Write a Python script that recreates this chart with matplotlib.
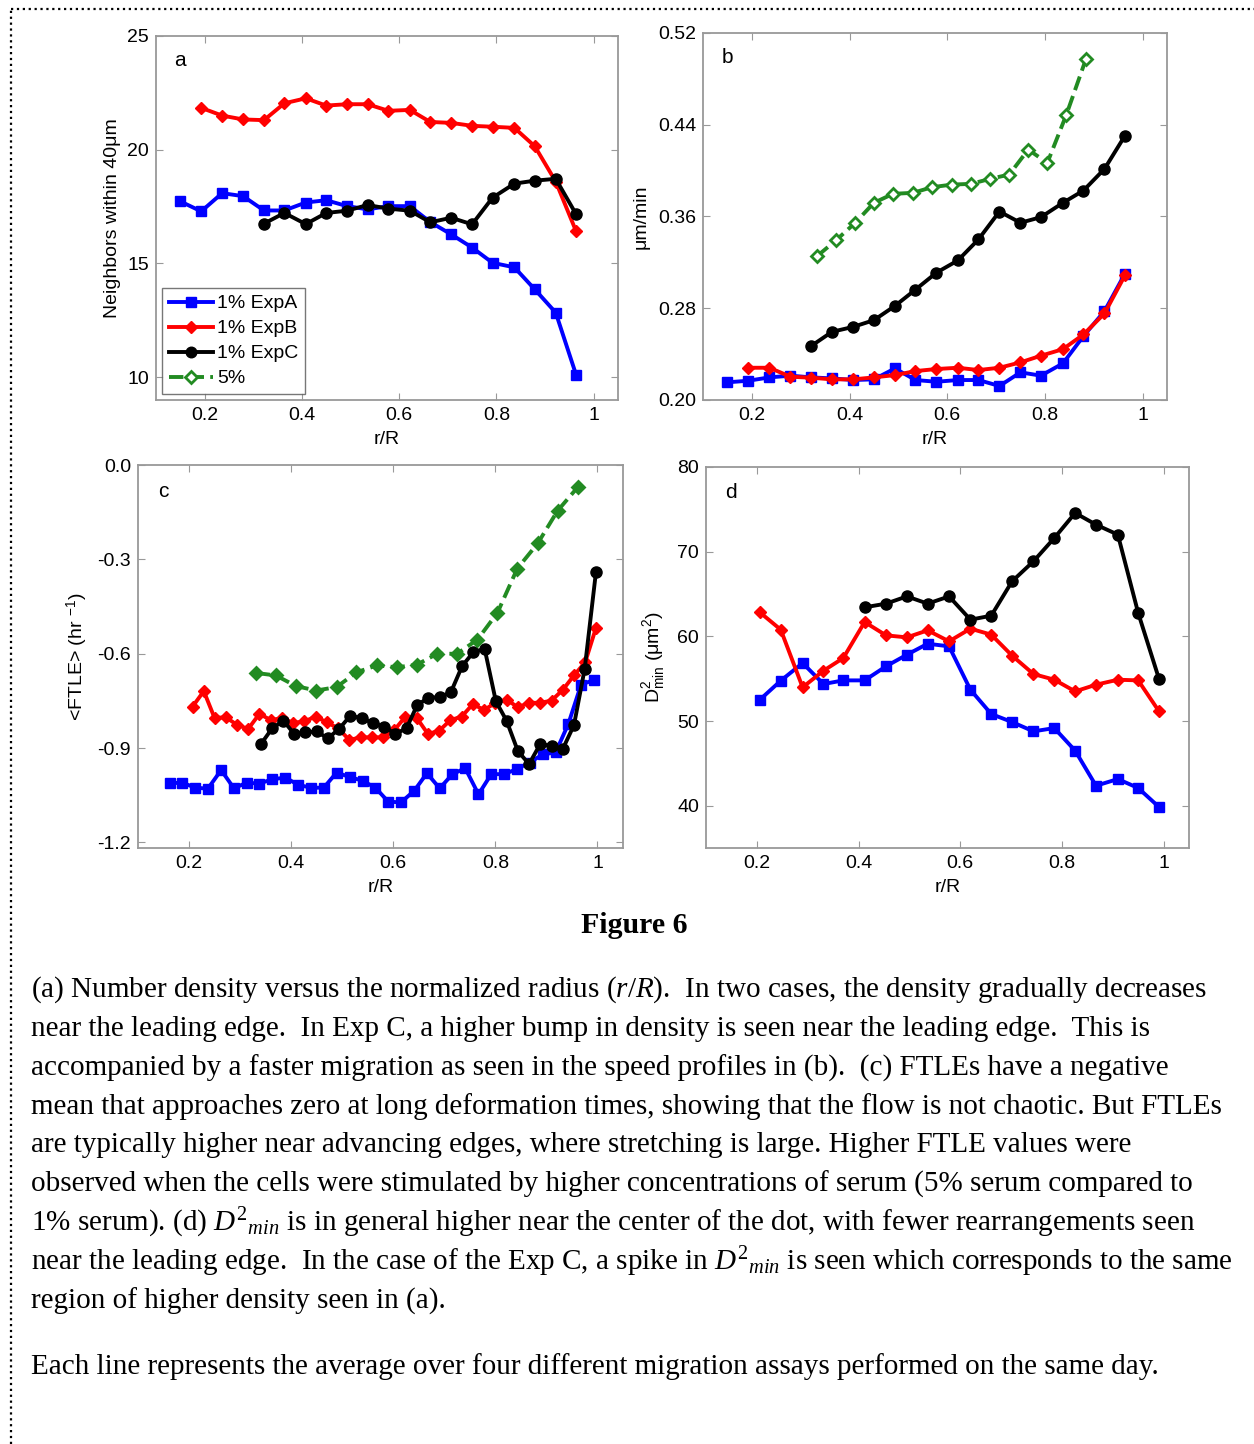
import numpy as np
import matplotlib.pyplot as plt
from matplotlib.lines import Line2D

plt.rcParams['font.family'] = ['Liberation Sans', 'DejaVu Sans']
plt.rcParams['axes.unicode_minus'] = False
plt.rcParams['mathtext.fontset'] = 'custom'
plt.rcParams['mathtext.rm'] = 'Liberation Serif'
plt.rcParams['mathtext.it'] = 'Liberation Serif:italic'
plt.rcParams['mathtext.sf'] = 'Liberation Sans'

# ---------------- data ----------------
# panel a : neighbours within 40 um
xa_A = [0.150, 0.193, 0.236, 0.279, 0.322, 0.364, 0.408, 0.450, 0.493, 0.535,
        0.578, 0.622, 0.664, 0.707, 0.750, 0.792, 0.837, 0.879, 0.922, 0.964]
ya_A = [17.73, 17.29, 18.09, 17.96, 17.33, 17.33, 17.68, 17.78, 17.52, 17.38,
        17.52, 17.52, 16.82, 16.28, 15.70, 15.03, 14.83, 13.86, 12.84, 10.10]
xa_B = xa_A[1:]
ya_B = [21.84, 21.50, 21.33, 21.30, 22.04, 22.26, 21.94, 22.00, 22.00,
        21.71, 21.75, 21.22, 21.18, 21.05, 21.01, 20.96, 20.15, 18.60, 16.41]
xa_C = xa_A[4:]
ya_C = [16.75, 17.22, 16.73, 17.22, 17.32, 17.57, 17.41, 17.32,
        16.81, 17.01, 16.72, 17.89, 18.51, 18.64, 18.72, 17.16]

# panel b : speed (um/min)
xb_A = xa_A
yb_A = [0.2154, 0.2168, 0.2197, 0.2212, 0.2197, 0.2188, 0.2174, 0.2180, 0.2275, 0.2174,
        0.2159, 0.2174, 0.2174, 0.2122, 0.2241, 0.2212, 0.2319, 0.2557, 0.2774, 0.3101]
xb_B = xa_A[1:]
yb_B = [0.2281, 0.2281, 0.2203, 0.2194, 0.2180, 0.2180, 0.2197, 0.2217, 0.2252, 0.2270,
        0.2281, 0.2261, 0.2281, 0.2328, 0.2386, 0.2443, 0.2571, 0.2754, 0.3087]
xb_C = xa_A[4:]
yb_C = [0.2472, 0.2594, 0.2638, 0.2696, 0.2820, 0.2962, 0.3110, 0.3217,
        0.3400, 0.3643, 0.3545, 0.3594, 0.3719, 0.3826, 0.4014, 0.4304]
xb_5 = [0.333, 0.372, 0.411, 0.450, 0.489, 0.530, 0.569, 0.610,
        0.649, 0.688, 0.727, 0.766, 0.805, 0.844, 0.884]
yb_5 = [0.3252, 0.3391, 0.3542, 0.3719, 0.3797, 0.3806, 0.3855, 0.3878,
        0.3884, 0.3928, 0.3965, 0.4183, 0.4067, 0.4487, 0.4971]

# panel c : <FTLE>
xc_A = [0.162, 0.187, 0.212, 0.237, 0.263, 0.288, 0.313, 0.338, 0.363, 0.389,
        0.414, 0.439, 0.464, 0.489, 0.515, 0.540, 0.565, 0.590, 0.615, 0.641,
        0.666, 0.691, 0.716, 0.741, 0.767, 0.792, 0.817, 0.842, 0.867, 0.893,
        0.918, 0.943, 0.968, 0.994]
yc_A = [-1.012, -1.010, -1.026, -1.029, -0.970, -1.028, -1.010, -1.013, -0.999, -0.994,
        -1.017, -1.026, -1.026, -0.978, -0.992, -1.004, -1.026, -1.070, -1.073, -1.036,
        -0.980, -1.028, -0.983, -0.964, -1.047, -0.983, -0.983, -0.967, -0.946, -0.920,
        -0.914, -0.823, -0.698, -0.683]
xc_B = [0.207, 0.229, 0.250, 0.272, 0.294, 0.316, 0.338, 0.360, 0.382, 0.404,
        0.426, 0.448, 0.470, 0.492, 0.514, 0.536, 0.558, 0.580, 0.602, 0.624,
        0.646, 0.668, 0.690, 0.712, 0.734, 0.756, 0.778, 0.800, 0.822, 0.844,
        0.866, 0.888, 0.910, 0.932, 0.954, 0.976, 0.997]
yc_B = [-0.768, -0.719, -0.804, -0.802, -0.826, -0.839, -0.791, -0.811, -0.805, -0.820,
        -0.815, -0.800, -0.818, -0.837, -0.874, -0.866, -0.866, -0.866, -0.843, -0.800,
        -0.804, -0.855, -0.845, -0.811, -0.800, -0.760, -0.779, -0.756, -0.746, -0.770,
        -0.756, -0.756, -0.749, -0.715, -0.669, -0.627, -0.518]
xc_C = [0.341, 0.363, 0.385, 0.406, 0.428, 0.450, 0.472, 0.494, 0.516, 0.538,
        0.560, 0.582, 0.604, 0.626, 0.647, 0.669, 0.691, 0.713, 0.735, 0.757,
        0.779, 0.801, 0.822, 0.844, 0.866, 0.888, 0.910, 0.932, 0.954, 0.975, 0.997]
yc_C = [-0.887, -0.837, -0.813, -0.855, -0.850, -0.847, -0.869, -0.839, -0.797, -0.805,
        -0.820, -0.832, -0.855, -0.837, -0.763, -0.740, -0.738, -0.722, -0.639, -0.595,
        -0.584, -0.751, -0.813, -0.909, -0.951, -0.887, -0.893, -0.903, -0.827, -0.648,
        -0.341]
xc_5 = [0.331, 0.370, 0.410, 0.449, 0.489, 0.528, 0.568, 0.607, 0.646,
        0.686, 0.725, 0.765, 0.804, 0.843, 0.883, 0.922, 0.961]
yc_5 = [-0.661, -0.669, -0.703, -0.717, -0.706, -0.659, -0.637, -0.643, -0.635,
        -0.600, -0.600, -0.555, -0.470, -0.329, -0.249, -0.145, -0.071]

# panel d : D2min
xd_A = [0.206, 0.247, 0.290, 0.331, 0.370, 0.412, 0.454, 0.495, 0.536, 0.578,
        0.620, 0.661, 0.702, 0.744, 0.785, 0.826, 0.867, 0.910, 0.950, 0.991]
yd_A = [52.52, 54.76, 56.85, 54.37, 54.80, 54.80, 56.46, 57.83, 59.13, 58.82,
        53.70, 50.83, 49.88, 48.78, 49.17, 46.50, 42.36, 43.15, 42.09, 39.84]
xd_B = xd_A
yd_B = [62.83, 60.79, 53.98, 55.94, 57.44, 61.69, 60.12, 59.88, 60.71, 59.41,
        60.91, 60.20, 57.72, 55.55, 54.88, 53.50, 54.29, 54.88, 54.80, 51.14]
xd_C = xd_A[5:]
yd_C = [63.43, 63.86, 64.72, 63.86, 64.72, 61.97, 62.44, 66.50,
        68.86, 71.61, 74.57, 73.19, 72.01, 62.76, 54.96]

labels = ['1% ExpA', '1% ExpB', '1% ExpC', '5%']
green = '#228B22'

caption = [
    r"(a) Number density versus the normalized radius ($\mathit{r/R}$).  In two cases, the density gradually decreases",
    r"near the leading edge.  In Exp C, a higher bump in density is seen near the leading edge.  This is",
    r"accompanied by a faster migration as seen in the speed profiles in (b).  (c) FTLEs have a negative",
    r"mean that approaches zero at long deformation times, showing that the flow is not chaotic. But FTLEs",
    r"are typically higher near advancing edges, where stretching is large. Higher FTLE values were",
    r"observed when the cells were stimulated by higher concentrations of serum (5% serum compared to",
    r"1% serum). (d) $\mathit{D}^{2}{}_{\mathit{min}}$ is in general higher near the center of the dot, with fewer rearrangements seen",
    r"near the leading edge.  In the case of the Exp C, a spike in $\mathit{D}^{2}{}_{\mathit{min}}$ is seen which corresponds to the same",
    r"region of higher density seen in (a).",
]
last_line = "Each line represents the average over four different migration assays performed on the same day."

# ---------------- figure ----------------
fig = plt.figure(figsize=(12.54, 14.44), dpi=100)

FS = 14
sA = dict(color='blue', marker='s', ms=7, lw=2.8)
sB = dict(color='red', marker='D', ms=6, lw=2.8)
sC = dict(color='black', marker='o', ms=8, lw=2.8)
s5 = dict(color=green, marker='D', ms=6, lw=2.8, ls='--', mfc='white', mew=2)


def style(ax, ylim, yticks, yticklabels, letter):
    ax.set_xlim(0.1, 1.05)
    ax.set_ylim(*ylim)
    ax.set_xticks([0.2, 0.4, 0.6, 0.8, 1.0])
    ax.set_xticklabels(['0.2', '0.4', '0.6', '0.8', '1'])
    ax.set_yticks(yticks)
    ax.set_yticklabels(yticklabels)
    ax.tick_params(direction='in', top=True, right=True, labelsize=FS,
                   length=5, color='#999999', pad=5)
    for sp in ax.spines.values():
        sp.set_color('#999999')
        sp.set_linewidth(1.3)
    ax.set_xlabel('r/R', fontsize=FS)
    ax.text(0.052, 0.932, letter, transform=ax.transAxes, fontsize=15,
            ha='center', va='center')


# (a)
ax = fig.add_axes([0.1244, 0.7230, 0.3684, 0.2521])
ax.plot(xa_A, ya_A, label=labels[0], **sA)
ax.plot(xa_B, ya_B, label=labels[1], **sB)
ax.plot(xa_C, ya_C, label=labels[2], **sC)
ax.plot([], [], label=labels[3], **s5)
style(ax, (9, 25), [10, 15, 20, 25], ['10', '15', '20', '25'], 'a')
ax.set_ylabel('Neighbors within 40\u03bcm', fontsize=FS)
ax.yaxis.set_label_coords(-0.076, 0.5)
ax.xaxis.set_label_coords(0.5, -0.085)
leg = ax.legend(loc='lower left', fontsize=FS, frameon=True, fancybox=False,
                handlelength=2.3, handletextpad=0.2, borderpad=0.35,
                labelspacing=0.38, borderaxespad=0.3, markerscale=0.95)
leg.get_frame().set_edgecolor('#555555')
leg.get_frame().set_linewidth(1.0)

# (b)
ax = fig.add_axes([0.5606, 0.7230, 0.3700, 0.2542])
ax.plot(xb_A, yb_A, **sA)
ax.plot(xb_B, yb_B, **sB)
ax.plot(xb_C, yb_C, **sC)
ax.plot(xb_5, yb_5, **s5)
style(ax, (0.2, 0.52), [0.20, 0.28, 0.36, 0.44, 0.52],
      ['0.20', '0.28', '0.36', '0.44', '0.52'], 'b')
ax.set_ylabel('\u03bcm/min', fontsize=FS)
ax.yaxis.set_label_coords(-0.114, 0.5)
ax.xaxis.set_label_coords(0.5, -0.085)

# (c)
ax = fig.add_axes([0.1100, 0.4127, 0.3868, 0.2652])
ax.plot(xc_A, yc_A, **sA)
ax.plot(xc_B, yc_B, **sB)
ax.plot(xc_C, yc_C, **sC)
ax.plot(xc_5, yc_5, **dict(s5, mfc=green))
style(ax, (-1.218, 0.0), [-1.2, -0.9, -0.6, -0.3, 0.0],
      ['-1.2', '-0.9', '-0.6', '-0.3', '0.0'], 'c')
ax.set_ylabel(r'<FTLE> (hr $^{\mathsf{-1}}$)', fontsize=FS)
ax.yaxis.set_label_coords(-0.099, 0.5)
ax.xaxis.set_label_coords(0.5, -0.081)

# (d)
ax = fig.add_axes([0.5630, 0.4127, 0.3852, 0.2639])
ax.plot(xd_A, yd_A, **sA)
ax.plot(xd_B, yd_B, **sB)
ax.plot(xd_C, yd_C, **sC)
style(ax, (35, 80), [40, 50, 60, 70, 80], ['40', '50', '60', '70', '80'], 'd')
ax.set_ylabel(r'$\mathsf{D^2_{min}}$ (' + '\u03bc' + r'm$\mathsf{^2}$)', fontsize=FS)
ax.yaxis.set_label_coords(-0.081, 0.5)
ax.xaxis.set_label_coords(0.5, -0.081)

# caption block
fig.text(0.5056, 1 - 925 / 1444, 'Figure 6', family='Liberation Serif',
         fontweight='bold', fontsize=21.5, ha='center', va='center')
CFS = 21.0
line_y = [990, 1029, 1068, 1107, 1145, 1184, 1223, 1262, 1301]
for yy, txt in zip(line_y, caption):
    fig.text(31 / 1254, 1 - yy / 1444, txt, family='Liberation Serif',
             fontsize=CFS, ha='left', va='center')
fig.text(31 / 1254, 1 - 1367 / 1444, last_line, family='Liberation Serif',
         fontsize=CFS, ha='left', va='center')

# dotted page border (top and left)
fig.add_artist(Line2D([11 / 1254, 1], [1 - 9 / 1444, 1 - 9 / 1444], transform=fig.transFigure,
                      color='black', ls=':', lw=1.6))
fig.add_artist(Line2D([11 / 1254, 11 / 1254], [0, 1 - 9 / 1444], transform=fig.transFigure,
                      color='black', ls=':', lw=1.6))

fig.savefig('out.png', dpi=100)
